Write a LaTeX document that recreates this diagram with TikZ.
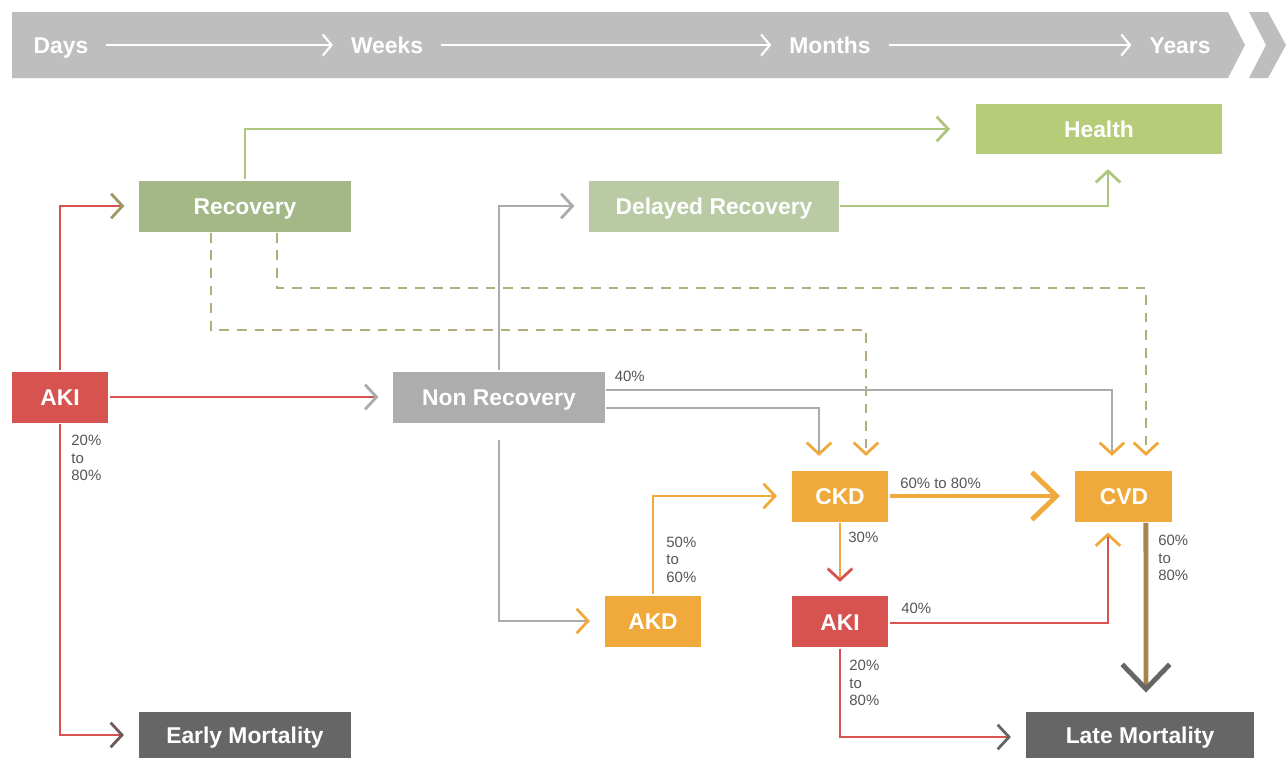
\documentclass[tikz,border=0pt]{standalone}
\usepackage{fontspec}
\setmainfont{Liberation Sans}
\usetikzlibrary{arrows.meta,calc}

\definecolor{bannergray}{HTML}{BEBEBE}
\definecolor{healthgreen}{HTML}{B6CC78}
\definecolor{recgreen}{HTML}{A4B887}
\definecolor{delaygreen}{HTML}{BACAA4}
\definecolor{akired}{HTML}{D65350}
\definecolor{nonrecgray}{HTML}{ADADAD}
\definecolor{ckdorange}{HTML}{F0A93B}
\definecolor{mortgray}{HTML}{666666}
\definecolor{pcttext}{HTML}{555555}
\definecolor{linegreen}{HTML}{AEC57F}
\definecolor{linegray}{HTML}{ABABAB}
\definecolor{dasholive}{HTML}{B3AD7C}
\definecolor{arrowolive}{HTML}{9E9766}
\definecolor{arrowbrown}{HTML}{6F5C5A}
\definecolor{cvdbrown}{HTML}{A8854F}

\begin{document}
\begin{tikzpicture}[x=0.02cm,y=-0.02cm,->,shorten >=7.5pt,line width=1.6pt,node distance=2.52cm,
  stage node/.style={rectangle,fill=#1,text=white,inner sep=0pt,minimum height=1.02cm,
    text height=9.4pt,text depth=0pt,font=\bfseries\fontsize{13}{15}\selectfont},
  pct label/.style={inner sep=0pt,align=left,text=pcttext,font=\fontsize{8.5}{10}\selectfont},
  tip in/.style={-{Straight Barb[length=6.5pt,width=14pt,color=#1]}},
  dash link/.style={dash pattern=on 5.5pt off 4.5pt},
  big arrow/.style={line width=2.8pt,-{Straight Barb[length=14pt,width=27pt,color=#1]}},
  time arrow/.style={white,line width=1.2pt,-{Straight Barb[length=5pt,width=12pt]},shorten <=9.5pt,shorten >=9.5pt},
  time text/.style={text=white,inner sep=0pt,text height=9.4pt,text depth=0pt,font=\bfseries\fontsize{13}{15}\selectfont}]

  \useasboundingbox (0,0) rectangle (1286,758);

  % time line
  \fill[bannergray] (12,12) -- (1228,12) -- (1245,45) -- (1228,78) -- (12,78) -- cycle;
  \fill[bannergray] (1249,12) -- (1268,12) -- (1286,45) -- (1268,78) -- (1249,78) -- (1266,45) -- cycle;
  \node[time text] (d) at (61,45) {Days};
  \node[time text] (w) at (387,45) {Weeks};
  \node[time text] (m) at (830,45) {Months};
  \node[time text] (y) at (1180,45) {Years};
  \draw[time arrow] (d) -- (w);
  \draw[time arrow] (w) -- (m);
  \draw[time arrow] (m) -- (y);

  \node[stage node=akired,minimum width=1.94cm] (1) at (60,397) {AKI};
  \node[stage node=recgreen,minimum width=4.24cm] (2) at (245,206) {Recovery};
  \node[stage node=delaygreen,minimum width=5cm] (3) at (714,206) {Delayed Recovery};
  \node[stage node=healthgreen,minimum width=4.92cm] (4) at (1099,129) {Health};
  \node[stage node=nonrecgray,minimum width=4.24cm] (5) at (499,397) {Non Recovery};
  \node[stage node=mortgray,minimum width=4.26cm,minimum height=0.94cm] (6) at (245,735) {Early Mortality};
  \node[stage node=ckdorange,minimum width=1.94cm] (7) at (840,496) {CKD};
  \node[stage node=ckdorange,minimum width=1.94cm] (8) [right of=7,node distance=5.68cm] {CVD};
  \node[stage node=ckdorange,minimum width=1.94cm] (9) at (653,621) {AKD};
  \node[stage node=akired,minimum width=1.94cm] (10) [below of=7] {AKI};
  \node[stage node=mortgray,minimum width=4.58cm,minimum height=0.94cm] (11) at (1140,735) {Late Mortality};

  % early paths
  \draw[linegreen,tip in=linegreen,shorten >=14pt] (2.north) |- (4.west);
  \draw[akired,tip in=arrowolive] (1.north) |- (2.west);
  \draw[akired,tip in=linegray] (1) -- (5);
  \draw[akired,tip in=arrowbrown] (1.south) |- (6.west);
  \draw[linegray,tip in=linegray] (5.north) |- (3.west);
  \draw[linegreen,tip in=linegreen] (3.east) -| ($(4.south)+(9,0)$);

  % dashed links from recovery
  \draw[dash link,dasholive,tip in=ckdorange] ($(2.south)+(-34,0)$) -- ++(0,97) -| ($(7.north)+(26,0)$);
  \draw[dash link,dasholive,tip in=ckdorange] ($(2.south)+(32,0)$) -- ++(0,55) -| ($(8.north)+(22,0)$);

  % non recovery onwards
  \draw[linegray,tip in=ckdorange] ($(5.east)+(0,-7)$) -| ($(8.north)+(-12,0)$);
  \draw[linegray,tip in=ckdorange] ($(5.east)+(0,11)$) -| ($(7.north)+(-21,0)$);
  \draw[linegray,tip in=ckdorange] ($(5.south)+(0,16)$) |- (9.west);
  \draw[ckdorange,tip in=ckdorange] (9.north) |- (7.west);
  \draw[ckdorange,big arrow=ckdorange,shorten >=8pt] (7) -- (8);
  \draw[ckdorange,tip in=akired] (7) -- (10);
  \draw[akired,tip in=ckdorange,shorten >=5.5pt] ($(10.east)+(0,1)$) -| ($(8.south)+(-16,0)$);
  \draw[akired,tip in=mortgray] (10.south) |- ($(11.west)+(0,2)$);
  \draw[cvdbrown,big arrow=mortgray,shorten >=10pt] ($(8.south)+(22,0)$) -- ($(11.north)+(6,0)$);

  % percentages
  \node[pct label,anchor=north west] at ($(1.south)+(10,10)$) {20\%\\to\\80\%};
  \node[pct label,anchor=west] at ($(5.north east)+(7,6)$) {40\%};
  \node[pct label,anchor=south west] at ($(9.north)+(12,-10)$) {50\%\\to\\60\%};
  \node[pct label,anchor=south west] at ($(7.east)+(9,-6)$) {60\% to 80\%};
  \node[pct label,anchor=north west] at ($(7.south)+(7,8)$) {30\%};
  \node[pct label,anchor=south west] at ($(10.east)+(10,-7)$) {40\%};
  \node[pct label,anchor=north west] at ($(10.south)+(8,10)$) {20\%\\to\\80\%};
  \node[pct label,anchor=north west] at ($(8.south)+(33,11)$) {60\%\\to\\80\%};

\end{tikzpicture}
\end{document}
